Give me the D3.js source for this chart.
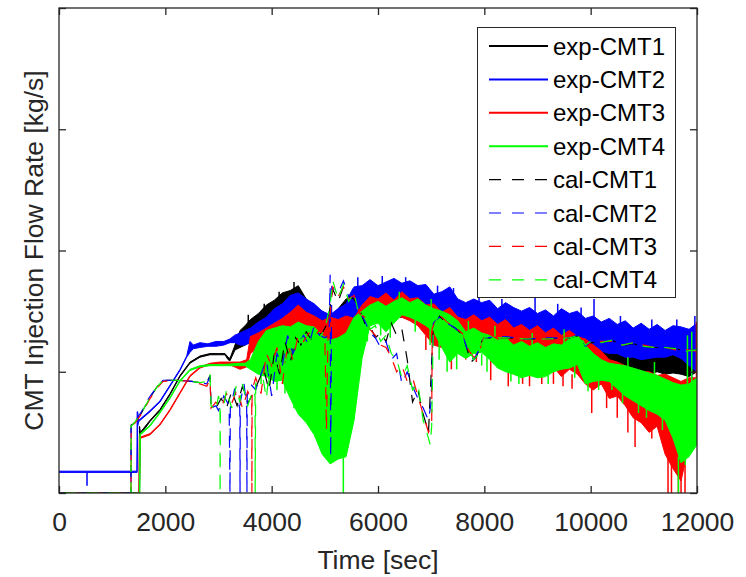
<!DOCTYPE html>
<html>
<head>
<meta charset="utf-8">
<script src="https://cdn.jsdelivr.net/npm/d3@7"></script>
<style>
  body { margin: 0; background: #fff; }
  svg { display: block; font-family: "Liberation Sans", Arial, Helvetica, sans-serif; }
</style>
</head>
<body>
<div id="chart"></div>
<script>
// Set dimensions
let dimensions = {
    width: 746,
    height: 577,
    margin: {
        top: 8,
        right: 49,
        bottom: 84,
        left: 59,
    },
}
dimensions.boundedWidth = dimensions.width - dimensions.margin.left - dimensions.margin.right
dimensions.boundedHeight = dimensions.height - dimensions.margin.top - dimensions.margin.bottom

// tick values (y ticks have no labels in the original)
const xTicks = [0, 2000, 4000, 6000, 8000, 10000, 12000]
const yTicks = [0, 1, 2, 3, 4]

const legendNames = ["exp-CMT1", "exp-CMT2", "exp-CMT3", "exp-CMT4", "cal-CMT1", "cal-CMT2", "cal-CMT3", "cal-CMT4"]

// shared time grid for the noisy part of the measurements [sec]
const noiseTime = [3600,3750,3900,4050,4200,4350,4500,4650,4800,4950,5100,5250,5400,5550,5700,5850,6000,6150,6300,6450,6600,6750,6900,7050,7200,7350,7500,7650,7800,7950,8100,8250,8400,8550,8700,8850,9000,9150,9300,9450,9600,9750,9900,10050,10200,10350,10500,10650,10800,10950,11100,11250,11400,11550,11700,11850,12000]

// exp-CMT1 : early (smooth) part, then upper / lower envelope of the noise band
const exp1Time = [0,1505,1515,1530,1712,1900,2088,2276,2464,2652,2840,3000,3122,3180,3216,3310,3405,3500]
const exp1Hi   = [0,0,0.55,0.5,0.6,0.69,0.82,0.97,1.08,1.13,1.15,1.15,1.15,1.12,1.11,1.22,1.34,1.38]
const exp1Lo   = [0,0,0,0.48,0.59,0.68,0.81,0.96,1.07,1.12,1.14,1.14,1.14,1.1,1.09,1.18,1.2,1.22]
const exp1HiN  = [1.43,1.48,1.55,1.59,1.65,1.67,1.71,1.6,1.52,1.5,1.45,1.52,1.6,1.62,1.6,1.62,1.64,1.66,1.65,1.68,1.64,1.66,1.62,1.58,1.55,1.58,1.52,1.5,1.52,1.48,1.5,1.46,1.47,1.44,1.45,1.41,1.43,1.4,1.42,1.38,1.4,1.37,1.35,1.36,1.32,1.33,1.3,1.31,1.28,1.29,1.26,1.28,1.26,1.25,1.24,1.22,1.2]
const exp1LoN  = [1.25,1.28,1.3,1.35,1.38,1.4,1.42,1.3,1.0,0.8,0.6,0.7,1.0,1.3,1.4,1.42,1.42,1.44,1.45,1.45,1.43,1.42,1.4,1.35,1.3,1.32,1.3,1.28,1.28,1.26,1.22,1.2,1.18,1.15,1.14,1.12,1.12,1.1,1.1,1.08,1.06,1.05,1.02,1.0,0.98,1.0,0.97,0.98,0.97,1.0,0.98,1.0,0.98,0.99,0.98,0.96,1.0]
const exp1SpikeT = [3560, 3860, 4140, 4420]
const exp1SpikeFrom = [1.35, 1.45, 1.55, 1.6]
const exp1SpikeTo = [1.47, 1.56, 1.66, 1.74]

// exp-CMT2
const exp2Time = [0,1465,1470,1480,1500,1712,1900,2088,2276,2402,2464,2527,2650,2800,2950,3100,3216,3300,3405,3500]
const exp2Hi   = [0.18,0.18,0.67,0.67,0.6,0.68,0.76,0.89,1.02,1.13,1.25,1.22,1.24,1.23,1.25,1.25,1.27,1.3,1.32,1.34]
const exp2Lo   = [0.17,0.17,0.17,0.55,0.59,0.67,0.75,0.88,1.01,1.12,1.16,1.19,1.2,1.21,1.21,1.22,1.24,1.24,1.22,1.22]
const exp2HiN  = [1.36,1.41,1.45,1.52,1.56,1.63,1.65,1.6,1.56,1.5,1.47,1.52,1.56,1.7,1.71,1.76,1.71,1.74,1.77,1.73,1.75,1.71,1.72,1.64,1.66,1.7,1.6,1.57,1.6,1.57,1.59,1.52,1.57,1.53,1.5,1.53,1.48,1.51,1.46,1.52,1.48,1.5,1.44,1.46,1.41,1.44,1.39,1.42,1.36,1.4,1.35,1.39,1.34,1.38,1.37,1.35,1.4]
const exp2LoN  = [1.24,1.26,1.27,1.31,1.37,1.39,1.42,1.35,0.95,0.65,0.4,0.55,1.0,1.42,1.47,1.53,1.49,1.52,1.54,1.57,1.55,1.56,1.49,1.45,1.43,1.41,1.4,1.37,1.39,1.35,1.34,1.33,1.31,1.28,1.28,1.25,1.27,1.24,1.25,1.23,1.24,1.21,1.2,1.19,1.17,1.15,1.15,1.12,1.12,1.1,1.11,1.12,1.12,1.14,1.11,1.05,1.0]
const exp2SpikeT = [527, 5620, 6080, 6520, 7120, 7420, 7900, 8330, 8954, 9380, 9820, 10063, 10560, 11150, 11620, 11901, 11960]
const exp2SpikeFrom = [0.17, 1.6, 1.6, 1.6, 1.55, 1.5, 1.45, 1.45, 1.4, 1.4, 1.35, 1.35, 1.3, 1.3, 1.3, 1.2, 1.3]
const exp2SpikeTo = [0.06, 1.78, 1.79, 1.78, 1.71, 1.69, 1.64, 1.6, 1.61, 1.56, 1.53, 1.6, 1.46, 1.43, 1.43, 0.73, 1.46]

// exp-CMT3
const exp3Time = [0,1505,1511,1525,1712,1900,2088,2276,2464,2652,2840,3028,3200,3405,3530]
const exp3Hi   = [0,0,0.47,0.46,0.49,0.57,0.69,0.83,0.97,1.04,1.07,1.08,1.08,1.08,1.1]
const exp3Lo   = [0,0,0,0.45,0.48,0.56,0.68,0.82,0.96,1.03,1.06,1.07,1.06,1.02,1.04]
const exp3HiN  = [1.29,1.32,1.36,1.4,1.44,1.49,1.55,1.49,1.46,1.42,1.45,1.43,1.46,1.44,1.55,1.62,1.6,1.65,1.59,1.66,1.6,1.61,1.55,1.56,1.49,1.53,1.45,1.43,1.47,1.42,1.45,1.39,1.43,1.36,1.39,1.34,1.38,1.32,1.36,1.3,1.34,1.29,1.27,1.22,1.17,1.1,1.08,1.05,1.02,1.0,1.0,0.97,0.98,0.95,0.92,0.95,0.95]
const exp3LoN  = [1.15,1.2,1.22,1.26,1.28,1.32,1.37,1.3,1.15,1.1,1.1,1.12,1.12,1.15,1.3,1.47,1.45,1.46,1.47,1.45,1.42,1.38,1.3,1.22,1.2,1.16,1.2,1.2,1.22,1.18,1.12,1.06,1.02,0.98,1.03,0.97,1.02,0.99,1.04,0.96,1.02,0.98,0.9,0.85,0.9,0.78,0.8,0.72,0.62,0.58,0.5,0.55,0.32,0.2,0.1,0.4,0.5]
const exp3SpikeT = [6900, 7380, 7650, 7850, 8120, 8450, 8720, 8850, 9080, 9300, 9480, 9650, 10020, 10300, 10500, 10700, 10835, 11150, 11455, 11520, 11650, 11700, 11775, 11990]
const exp3SpikeFrom = [1.3, 1.2, 1.2, 1.2, 1.1, 1.05, 1.05, 1.0, 1.05, 1.0, 1.0, 0.98, 0.95, 0.85, 0.8, 0.75, 0.7, 0.6, 0.4, 0.3, 0.3, 0.2, 0.3, 0.9]
const exp3SpikeTo = [1.18, 1.02, 1.1, 1.08, 0.93, 0.88, 0.9, 0.88, 0.9, 0.9, 0.88, 0.86, 0.66, 0.7, 0.62, 0.5, 0.38, 0.45, 0, 0, 0, 0, 0, 1.41]

// exp-CMT4
const exp4Time = [0,1515,1520,1530,1712,1900,2088,2276,2464,2652,2840,3100,3400,3500]
const exp4Hi   = [0,0,0.49,0.49,0.56,0.67,0.79,0.93,1.02,1.05,1.06,1.06,1.07,1.07]
const exp4Lo   = [0,0,0,0.48,0.55,0.66,0.78,0.92,1.01,1.04,1.05,1.05,1.05,1.05]
const exp4HiN  = [1.1,1.25,1.34,1.36,1.38,1.37,1.41,1.38,1.37,1.3,1.26,1.28,1.32,1.45,1.5,1.55,1.58,1.54,1.58,1.61,1.57,1.6,1.55,1.52,1.5,1.47,1.42,1.33,1.36,1.32,1.3,1.26,1.28,1.22,1.25,1.21,1.24,1.2,1.23,1.22,1.27,1.3,1.22,1.15,1.1,1.07,1.06,1.05,1.03,1.01,0.99,0.97,0.94,0.91,0.89,0.9,0.95]
const exp4LoN  = [1.02,0.98,0.96,0.92,0.93,0.78,0.65,0.58,0.48,0.32,0.24,0.28,0.3,0.6,1.11,1.38,1.4,1.33,1.4,1.47,1.45,1.42,1.38,1.33,1.2,1.08,1.15,1.11,1.15,1.16,1.1,1.03,1.0,0.98,0.95,0.97,0.95,0.96,1.0,1.02,1.03,1.06,0.9,0.92,0.93,0.92,0.86,0.8,0.76,0.72,0.68,0.65,0.6,0.45,0.25,0.3,0.4]
const exp4SpikeT = [3800, 3950, 4100, 4250, 4420, 5348, 5650, 5800, 6050, 6230, 6400, 6700, 6980, 7000, 7150, 7300, 7480, 7700, 7950, 8050, 8200, 8500, 8650, 8900, 9200, 9500, 9700, 9950, 10150, 10400, 10600, 10700, 10900, 11050, 11200, 11350, 11650, 11780, 11820, 11901]
const exp4SpikeFrom = [1.05, 1.0, 1.0, 0.95, 0.8, 0.3, 1.2, 1.4, 1.42, 1.4, 1.58, 1.45, 1.38, 1.5, 1.25, 1.15, 1.15, 1.3, 1.15, 1.12, 1.28, 1.05, 1.0, 1.2, 1.0, 1.2, 1.05, 0.95, 0.95, 0.95, 0.85, 1.02, 0.8, 0.72, 0.95, 0.65, 0.3, 0.3, 0.9, 0.9]
const exp4SpikeTo = [0.9, 0.88, 0.85, 0.82, 0.7, 0, 0.95, 1.25, 1.3, 1.28, 1.66, 1.33, 1.22, 1.6, 1.1, 1.0, 1.02, 1.42, 1.05, 1.0, 1.38, 0.92, 0.9, 1.32, 0.9, 1.35, 0.95, 0.84, 0.85, 0.85, 0.74, 1.12, 0.66, 0.62, 1.08, 0.52, 0, 0.23, 1.3, 1.33]

// calculations (dashed)
const cal1Time = [0,1354,1356,1400,1550,1700,1850,1960,2200,2500,2650,2780,2840,2860,2950,3050,3150,3250,3350,3450,3550,3650,3750,3850,3950,4050,4150,4250,4350,4450,4550,4650,4750,4850,4950,5050,5150,5250,5350,5450,5550,5650,5750,5850,5950,6050,6150,6250,6350,6450,6550,6650,6750,6850,6950,7040,7150,7300,7450,7600,7700,7750,7850,7950,8000,8400,8800,9200,9600,9800,9900,10000,10200,10400,10600,10800,11000,11200,11400,11600,11800,12000]
const cal1Flow = [0,0,0.56,0.57,0.66,0.78,0.88,0.93,0.93,0.92,0.91,0.91,0.97,0.71,0.7,0.78,0.7,0.84,0.72,0.88,0.74,0.82,0.92,1.02,0.85,1.15,0.98,1.25,1.08,1.28,1.22,1.33,1.26,1.3,1.32,1.4,1.68,1.58,1.7,1.62,1.6,1.52,1.4,1.38,1.28,1.32,1.25,1.4,1.3,1.35,1.1,0.75,0.85,0.65,0.5,1.38,1.46,1.4,1.36,1.3,1.15,1.08,1.12,1.25,1.28,1.28,1.27,1.27,1.28,1.3,1.22,1.24,1.24,1.26,1.22,1.23,1.21,1.2,1.2,1.19,1.17,1.18]

const cal2Time = [0,1354,1356,1400,1550,1700,1850,1960,2200,2500,2650,2780,2840,2860,2950,3000,3100,3200,3216,3222,3300,3400,3405,3410,3480,3530,3535,3540,3600,3700,3800,3900,4000,4100,4200,4300,4400,4500,4600,4700,4800,4900,5000,5080,5100,5110,5130,5250,5350,5450,5550,5650,5750,5850,5950,6050,6150,6250,6350,6450,6550,6650,6750,6850,6950,7000,7040,7150,7300,7450,7600,7700,7800,7900,8000,8400,8800,9200,9600,9800,9900,10000,10200,10400,10600,10800,11000,11200,11400,11600,11800,12000]
const cal2Flow = [0,0,0.55,0.57,0.67,0.79,0.88,0.93,0.93,0.92,0.91,0.9,0.96,0.7,0.72,0.68,0.8,0.72,0,0.7,0.85,0.7,0,0.75,0.9,0.72,0,0.8,0.9,0.85,0.98,1.1,0.8,1.15,1.05,1.3,1.15,1.25,1.3,1.22,1.38,1.3,1.28,1.3,1.8,0.3,1.7,1.65,1.75,1.62,1.7,1.5,1.42,1.32,1.28,1.2,1.25,1.1,1.15,0.9,1.0,0.88,0.78,0.7,0.6,0.75,1.4,1.45,1.4,1.36,1.3,1.15,1.1,1.18,1.28,1.29,1.27,1.28,1.28,1.31,1.21,1.25,1.25,1.26,1.23,1.23,1.21,1.21,1.19,1.19,1.17,1.18]

const cal3Time = [0,1354,1358,1400,1550,1700,1850,1960,2200,2500,2650,2780,2840,2860,2950,3050,3150,3250,3350,3450,3550,3625,3628,3632,3700,3800,3900,4000,4100,4200,4300,4400,4500,4600,4700,4800,4900,5000,5030,5060,5150,5250,5350,5450,5550,5650,5750,5850,5950,6050,6150,6250,6350,6450,6550,6650,6750,6850,6950,7010,7020,7150,7300,7450,7600,7700,7800,7900,8000,8400,8800,9200,9600,9800,9900,10000,10200,10400,10600,10800,11000,11200,11400,11600,11800,12000]
const cal3Flow = [0,0,0.54,0.56,0.65,0.77,0.87,0.92,0.93,0.92,0.9,0.88,0.94,0.7,0.75,0.7,0.82,0.74,0.86,0.7,0.84,0.76,0,0.85,0.95,0.82,1.15,1.05,1.2,0.9,1.22,1.1,1.3,1.25,1.32,1.28,1.35,1.3,0.52,1.3,1.7,1.62,1.7,1.6,1.63,1.48,1.45,1.35,1.3,1.22,1.2,1.12,1.0,1.05,0.92,0.95,0.8,0.65,0.5,0.56,1.36,1.47,1.41,1.37,1.31,1.18,1.12,1.16,1.29,1.28,1.28,1.27,1.29,1.29,1.23,1.24,1.25,1.25,1.22,1.24,1.22,1.2,1.2,1.18,1.18,1.17]

const cal4Time = [0,1354,1356,1400,1550,1700,1850,1960,2200,2500,2650,2780,2840,2860,2950,3000,3028,3030,3035,3100,3150,3250,3330,3400,3450,3550,3650,3687,3690,3700,3800,3900,4000,4100,4200,4300,4400,4500,4600,4700,4800,4900,5000,5100,5150,5250,5350,5450,5550,5650,5750,5850,5950,6050,6150,6250,6350,6450,6550,6650,6750,6850,6950,6980,7010,7040,7150,7300,7450,7600,7700,7800,7900,8000,8400,8800,9200,9600,9800,9900,10000,10200,10400,10600,10800,11000,11200,11400,11600,11800,12000]
const cal4Flow = [0,0,0.55,0.57,0.66,0.78,0.88,0.93,0.93,0.92,0.91,0.92,0.98,0.72,0.68,0.8,0.75,0,0.7,0.72,0.85,0.7,0.88,0.75,0.9,0.72,0.85,0.8,0,0.9,1.05,0.78,1.2,0.95,1.25,1.0,1.3,1.2,1.35,1.25,1.33,1.28,1.35,1.55,1.75,1.6,1.72,1.58,1.65,1.45,1.5,1.35,1.38,1.25,1.3,1.15,1.1,0.95,1.05,0.85,0.9,0.6,0.45,0.4,0.55,1.36,1.48,1.42,1.38,1.32,1.2,1.1,1.15,1.28,1.28,1.27,1.27,1.28,1.3,1.22,1.25,1.24,1.26,1.22,1.24,1.21,1.2,1.2,1.19,1.17,1.18]

const colors = ["#000000", "#0000ff", "#ff0000", "#00ff00"]

// build series tables from the arrays
const zipBand = (t, hi, lo) => t.map((d, i) => ({ t: d, hi: hi[i], lo: lo[i] }))
const zipSpikes = (t, from, to) => t.map((d, i) => ({ t: d, from: from[i], to: to[i] }))
const expSeries = [
    { color: colors[0], band: zipBand(exp1Time.concat(noiseTime), exp1Hi.concat(exp1HiN), exp1Lo.concat(exp1LoN)),
      spikes: zipSpikes(exp1SpikeT, exp1SpikeFrom, exp1SpikeTo) },
    { color: colors[1], band: zipBand(exp2Time.concat(noiseTime), exp2Hi.concat(exp2HiN), exp2Lo.concat(exp2LoN)),
      spikes: zipSpikes(exp2SpikeT, exp2SpikeFrom, exp2SpikeTo) },
    { color: colors[2], band: zipBand(exp3Time.concat(noiseTime), exp3Hi.concat(exp3HiN), exp3Lo.concat(exp3LoN)),
      spikes: zipSpikes(exp3SpikeT, exp3SpikeFrom, exp3SpikeTo) },
    { color: colors[3], band: zipBand(exp4Time.concat(noiseTime), exp4Hi.concat(exp4HiN), exp4Lo.concat(exp4LoN)),
      spikes: zipSpikes(exp4SpikeT, exp4SpikeFrom, exp4SpikeTo) },
]
const calSeries = [
    { color: colors[0], pts: cal1Time.map((t, i) => ({ t, v: cal1Flow[i] })), offset: 0 },
    { color: colors[1], pts: cal2Time.map((t, i) => ({ t, v: cal2Flow[i] })), offset: 6 },
    { color: colors[2], pts: cal3Time.map((t, i) => ({ t, v: cal3Flow[i] })), offset: 12 },
    { color: colors[3], pts: cal4Time.map((t, i) => ({ t, v: cal4Flow[i] })), offset: 17 },
]

// Create scales
const xScale = d3.scaleLinear()
    .domain([0, 12000])
    .range([0, dimensions.boundedWidth])

const yScale = d3.scaleLinear()
    .domain([0, 4])
    .range([dimensions.boundedHeight, 0])

const axisColor = "#262626"

function drawChart() {
    const wrapper = d3.select("#chart")
        .append("svg")
        .attr("width", dimensions.width)
        .attr("height", dimensions.height)

    const bounds = wrapper.append("g")
        .attr("transform", `translate(${dimensions.margin.left},${dimensions.margin.top})`)

    bounds.append("defs").append("clipPath")
        .attr("id", "plot-clip")
        .append("rect")
        .attr("x", 0)
        .attr("y", -1)
        .attr("width", dimensions.boundedWidth)
        .attr("height", dimensions.boundedHeight + 1)

    const plot = bounds.append("g").attr("clip-path", "url(#plot-clip)")

    const area = d3.area()
        .x(d => xScale(d.t))
        .y0(d => yScale(d.lo))
        .y1(d => yScale(d.hi))

    expSeries.forEach(s => {
        plot.append("path")
            .datum(s.band)
            .attr("d", area)
            .attr("fill", s.color)
            .attr("stroke", s.color)
            .attr("stroke-width", 1)
            .attr("stroke-linejoin", "round")

        plot.selectAll(null)
            .data(s.spikes)
            .join("line")
            .attr("x1", d => xScale(d.t))
            .attr("x2", d => xScale(d.t))
            .attr("y1", d => yScale(d.from))
            .attr("y2", d => yScale(d.to))
            .attr("stroke", s.color)
            .attr("stroke-width", 1.5)
    })

    const line = d3.line()
        .x(d => xScale(d.t))
        .y(d => yScale(d.v))

    calSeries.forEach(s => {
        plot.append("path")
            .datum(s.pts)
            .attr("d", line)
            .attr("fill", "none")
            .attr("stroke", s.color)
            .attr("stroke-width", 1.2)
            .attr("stroke-dasharray", "12,10")
            .attr("stroke-dashoffset", s.offset)
    })

    // axes (ticks inside, box like matlab)
    const xAxis = bounds.append("g")
        .attr("transform", `translate(0,${dimensions.boundedHeight})`)
        .call(d3.axisBottom(xScale).tickValues(xTicks).tickFormat(d3.format("d"))
            .tickSizeInner(-7).tickSizeOuter(0).tickPadding(19))
    const xAxisTop = bounds.append("g")
        .call(d3.axisTop(xScale).tickValues(xTicks).tickFormat("")
            .tickSizeInner(-7).tickSizeOuter(0))
    const yAxis = bounds.append("g")
        .call(d3.axisLeft(yScale).tickValues(yTicks).tickFormat("")
            .tickSizeInner(-7).tickSizeOuter(0))
    const yAxisRight = bounds.append("g")
        .attr("transform", `translate(${dimensions.boundedWidth},0)`)
        .call(d3.axisRight(yScale).tickValues(yTicks).tickFormat("")
            .tickSizeInner(-7).tickSizeOuter(0))

    ;[xAxis, xAxisTop, yAxis, yAxisRight].forEach(a => {
        a.select(".domain").remove()
        a.selectAll(".tick line").attr("stroke", axisColor).attr("stroke-width", 1.3)
        a.selectAll(".tick text")
            .attr("fill", axisColor)
            .style("font-size", "26.5px")
            .style("font-family", "'Liberation Sans', Arial, sans-serif")
    })

    bounds.append("rect")
        .attr("x", 0)
        .attr("y", 0)
        .attr("width", dimensions.boundedWidth)
        .attr("height", dimensions.boundedHeight)
        .attr("fill", "none")
        .attr("stroke", axisColor)
        .attr("stroke-width", 1.3)

    // axis labels
    bounds.append("text")
        .attr("x", dimensions.boundedWidth / 2)
        .attr("y", dimensions.boundedHeight + 76)
        .attr("text-anchor", "middle")
        .attr("fill", axisColor)
        .style("font-size", "26.5px")
        .text("Time [sec]")

    bounds.append("text")
        .attr("transform", `translate(${-16},${dimensions.boundedHeight / 2}) rotate(-90)`)
        .attr("text-anchor", "middle")
        .attr("fill", axisColor)
        .style("font-size", "26.5px")
        .text("CMT Injection Flow Rate [kg/s]")

    // legend
    const legend = wrapper.append("g").attr("transform", "translate(477.5,27.5)")
    legend.append("rect")
        .attr("width", 198)
        .attr("height", 270)
        .attr("fill", "#ffffff")
        .attr("stroke", axisColor)
        .attr("stroke-width", 1)

    const rows = legend.selectAll("g.row")
        .data(legendNames)
        .join("g")
        .attr("class", "row")
        .attr("transform", (d, i) => `translate(0,${18.5 + i * 33.4})`)

    rows.append("line")
        .attr("x1", 11.5)
        .attr("x2", 70.5)
        .attr("stroke", (d, i) => colors[i % 4])
        .attr("stroke-width", (d, i) => i < 4 ? 2 : 1.2)
        .attr("stroke-dasharray", (d, i) => i < 4 ? null : "12,11")

    rows.append("text")
        .attr("x", 75.5)
        .attr("y", 8.5)
        .attr("fill", "#000")
        .style("font-size", "24px")
        .text(d => d)
}

drawChart()
</script>
</body>
</html>
